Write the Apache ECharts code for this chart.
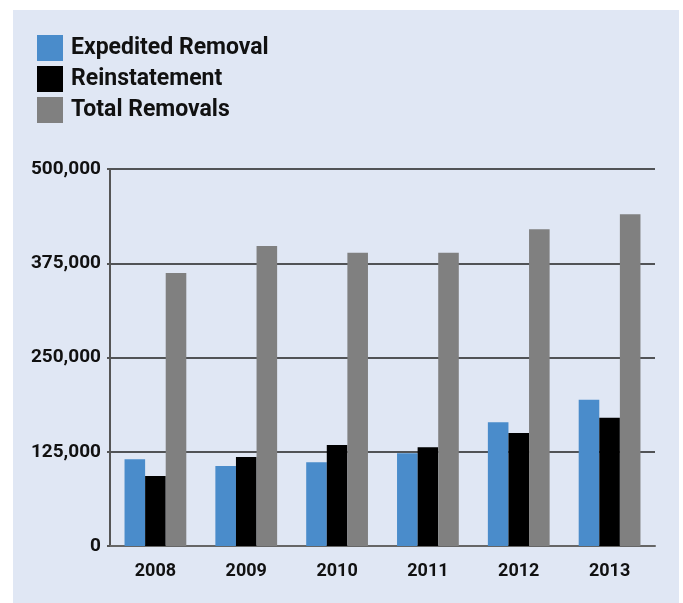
<!DOCTYPE html>
<html>
<head>
<meta charset="utf-8">
<script src="https://cdn.jsdelivr.net/npm/echarts@6/dist/echarts.min.js"></script>
<style>
  html, body { margin: 0; padding: 0; background: #fff; }
  #chart { width: 683px; height: 603px; }
</style>
</head>
<body>
<div id="chart"></div>
<script>
var chartDom = document.getElementById("chart");
var chart = echarts.init(chartDom, null, { renderer: "canvas" });

const years = ["2008", "2009", "2010", "2011", "2012", "2013"];
const expedited = [115000, 106000, 111000, 123000, 164000, 194000];
const reinstatement = [93000, 118000, 134000, 131000, 150000, 170000];
const totalRemovals = [362000, 398000, 389000, 389000, 420000, 440000];
const yTicks = [0, 125000, 250000, 375000, 500000];

const labelFont = "Roboto, sans-serif";

var option = {
  backgroundColor: "#ffffff",
  animation: false,
  graphic: [
    {
      type: "rect",
      z: -10,
      shape: { x: 13, y: 10, width: 666, height: 600 },
      style: { fill: "#e0e7f4" },
    },
  ],
  legend: {
    orient: "vertical",
    left: 37,
    top: 35,
    padding: 0,
    itemWidth: 26,
    itemHeight: 26,
    itemGap: 5,
    icon: "rect",
    textStyle: {
      fontFamily: labelFont,
      fontWeight: "bold",
      fontSize: 23,
      color: "#111",
      padding: [0, 0, 0, 3],
    },
    data: ["Expedited Removal", "Reinstatement", "Total Removals"],
  },
  grid: {
    left: 110,
    right: 28,
    top: 169,
    bottom: 57,
  },
  xAxis: {
    type: "category",
    data: years,
    axisLine: { lineStyle: { color: "#666", width: 2 } },
    axisTick: { show: false },
    axisLabel: {
      margin: 16,
      fontFamily: labelFont,
      fontWeight: "bold",
      fontSize: 18,
      color: "#111",
    },
  },
  yAxis: {
    type: "value",
    min: 0,
    max: 500000,
    interval: 125000,
    axisLine: { show: true, lineStyle: { color: "#555", width: 2 } },
    axisTick: { show: true, length: 3, lineStyle: { color: "#555", width: 2 } },
    splitLine: { lineStyle: { color: "#222", width: 1.5 } },
    axisLabel: {
      margin: 9,
      fontFamily: labelFont,
      fontWeight: "bold",
      fontSize: 19,
      color: "#111",
      formatter: function (v) {
        return yTicks.indexOf(v) >= 0 ? v.toLocaleString("en-US") : "";
      },
    },
  },
  series: [
    {
      name: "Expedited Removal",
      type: "bar",
      data: expedited,
      barGap: "0%",
      barCategoryGap: "32%",
      itemStyle: { color: "#4a8ccb" },
    },
    {
      name: "Reinstatement",
      type: "bar",
      data: reinstatement,
      barGap: "0%",
      barCategoryGap: "32%",
      itemStyle: { color: "#000000" },
    },
    {
      name: "Total Removals",
      type: "bar",
      data: totalRemovals,
      barGap: "0%",
      barCategoryGap: "32%",
      itemStyle: { color: "#808080" },
    },
  ],
};

chart.setOption(option);

window.addEventListener("resize", function () {
  chart.resize();
});
</script>
</body>
</html>
